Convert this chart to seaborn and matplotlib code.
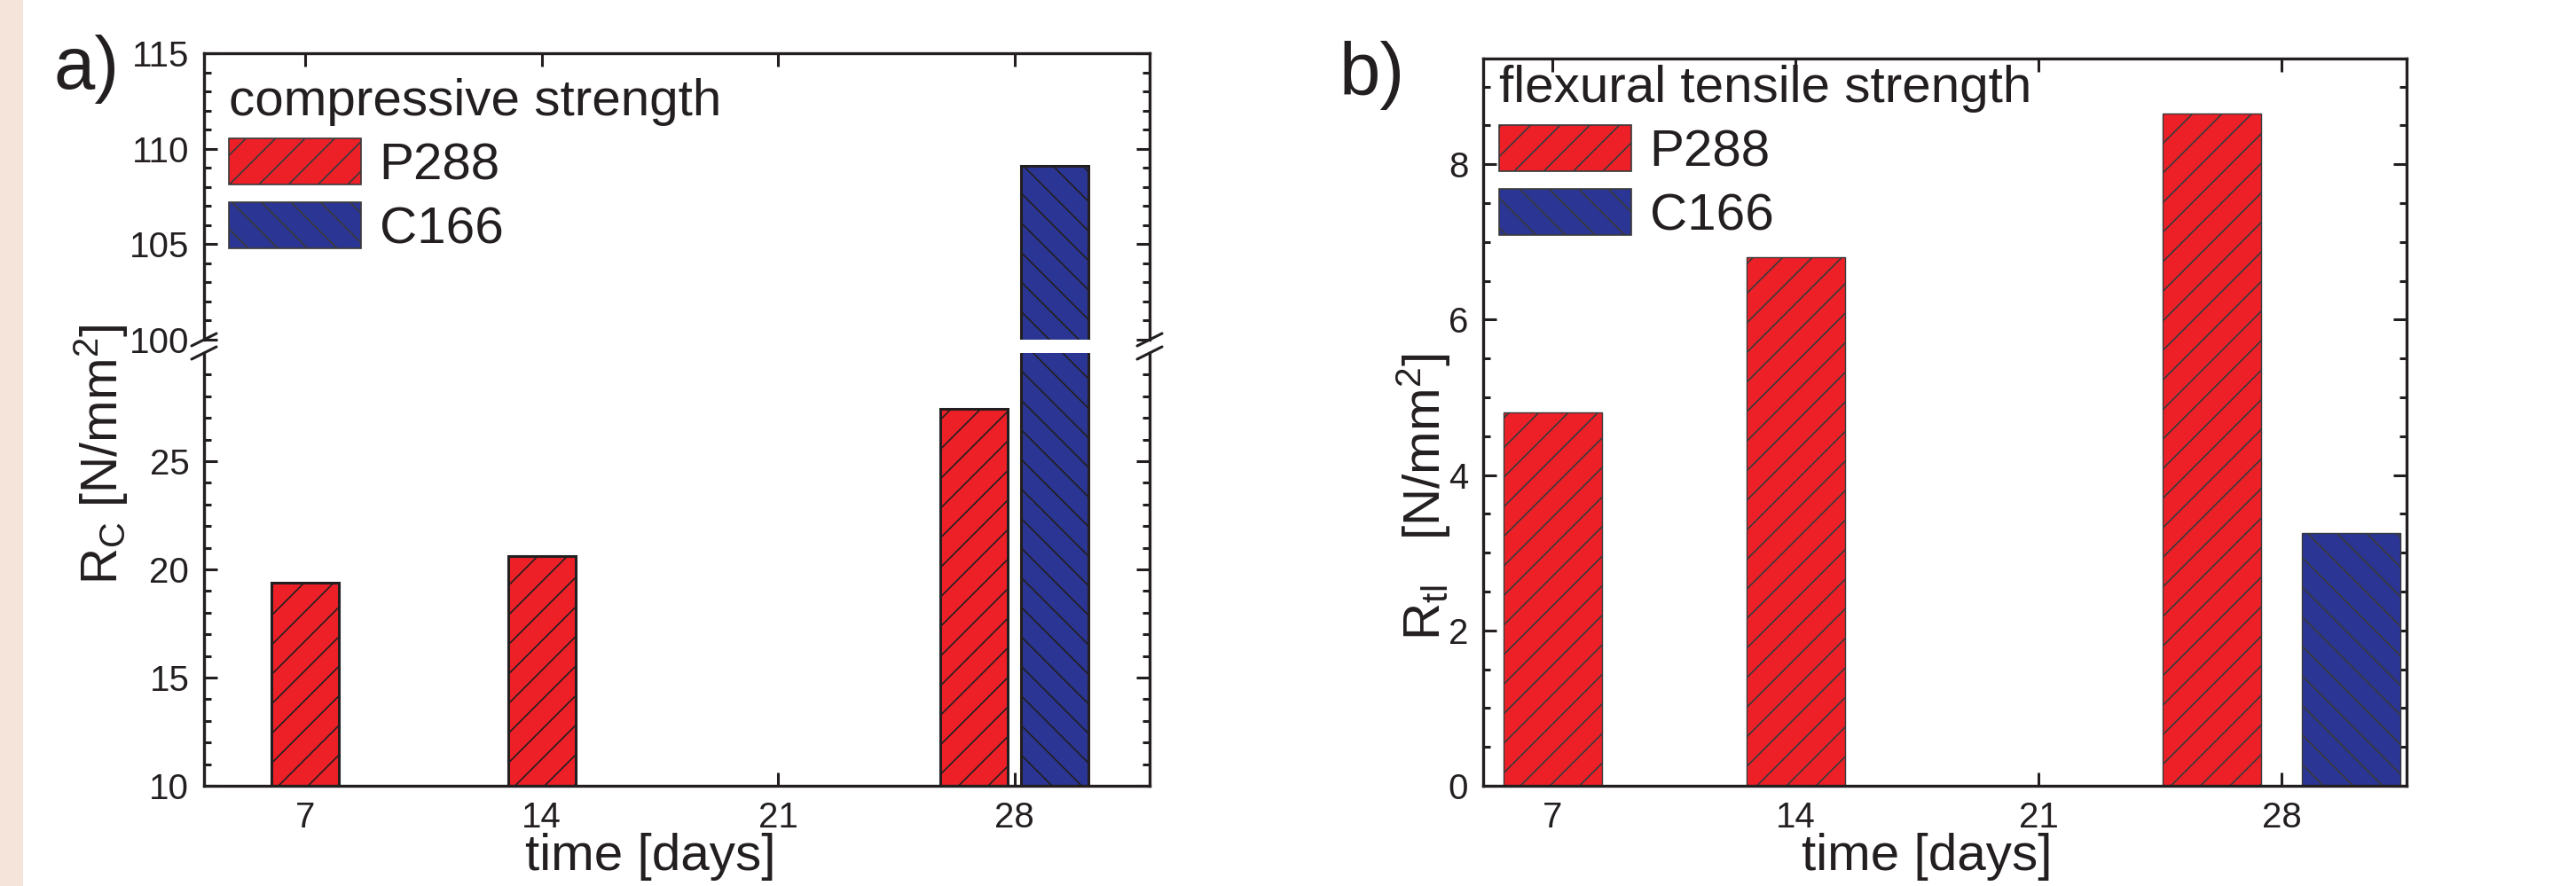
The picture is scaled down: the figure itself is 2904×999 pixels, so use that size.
import numpy as np
import pandas as pd
import matplotlib
matplotlib.use('Agg')
import matplotlib.pyplot as plt
from matplotlib.patches import Patch, Rectangle
from matplotlib.ticker import MultipleLocator, FixedLocator
import seaborn as sns

# data
days = [7, 14, 21, 28]
series = ['P288', 'C166']
compressive_p288 = [19.4, 20.6, np.nan, 27.4]
compressive_c166 = [np.nan, np.nan, np.nan, 109.1]
flexural_p288 = [4.8, 6.8, np.nan, 8.65]
flexural_c166 = [np.nan, np.nan, np.nan, 3.25]

colors = {'P288': '#ED2028', 'C166': '#2B3594'}
hatches = {'P288': '//', 'C166': '\\\\'}
INK = '#231F20'

W, H, DPI = 2904, 999, 200

sns.set_theme(style='ticks', rc={'hatch.linewidth': 0.6,
                                 'axes.edgecolor': INK,
                                 'xtick.color': INK,
                                 'ytick.color': INK,
                                 'text.color': INK})
plt.rcParams['font.family'] = ['Liberation Sans', 'DejaVu Sans']
plt.rcParams['mathtext.fontset'] = 'custom'
plt.rcParams['mathtext.rm'] = 'Liberation Sans'
plt.rcParams['mathtext.it'] = 'Liberation Sans:italic'


def long_table(p288, c166, offset):
    """One row per bar; bars sharing a day are pushed apart by offset."""
    rows = []
    for i, day in enumerate(days):
        vals = {'P288': p288[i], 'C166': c166[i]}
        present = [s for s in series if not np.isnan(vals[s])]
        for s in present:
            shift = 0.0
            if len(present) > 1:
                shift = -offset if s == 'P288' else offset
            rows.append({'day': day, 'pos': day + shift,
                         'series': s, 'value': vals[s]})
    return pd.DataFrame(rows)


def draw_bars(ax, df, bar_w, lw, edge):
    native = np.diff(np.unique(df['pos'])).min()
    sns.barplot(data=df, x='pos', y='value', hue='series', hue_order=series,
                palette=colors, native_scale=True, dodge=False,
                width=bar_w / native, saturation=1, errorbar=None,
                legend=False, edgecolor=edge, linewidth=lw, ax=ax)
    for cont, s in zip(ax.containers, series):
        for bar in cont:
            bar.set_hatch(hatches[s])
    ax.set_xlabel('')
    ax.set_ylabel('')


def style_axis(ax, xlim):
    for sp in ax.spines.values():
        sp.set_linewidth(1.2)
        sp.set_color(INK)
        sp.set_visible(True)
    ax.tick_params(which='both', direction='in', width=1.1, colors=INK,
                   labelsize=14.5, left=True, right=True)
    ax.tick_params(which='major', length=5.4)
    ax.tick_params(which='minor', length=2.9)
    ax.tick_params(axis='y', pad=6)
    ax.tick_params(axis='x', pad=6)
    ax.set_xlim(*xlim)
    ax.set_xticks(days)
    ax.set_xticklabels([str(d) for d in days])


def add_legend(ax, title, left_px, top_px):
    handles = [Patch(facecolor=colors[s], edgecolor='#3a3a3a',
                     hatch=hatches[s], linewidth=0.6) for s in series]
    leg = ax.legend(handles, series, title=title, loc='upper left',
                    bbox_to_anchor=(left_px / W, 1 - top_px / H),
                    bbox_transform=fig.transFigure, frameon=False,
                    fontsize=21, title_fontsize=21, handlelength=2.55,
                    handleheight=1.0, handletextpad=0.36, labelspacing=0.24,
                    borderpad=0, borderaxespad=0, alignment='left')
    leg.get_title().set_color(INK)
    return leg


def break_marks(ax, y, ax_w_px, ax_h_px):
    dx = 14 / ax_w_px
    dy = 7 / ax_h_px
    for x in (0, 1):
        ax.plot([x - dx, x + dx], [y - dy, y + dy], transform=ax.transAxes,
                color=INK, lw=1.1, clip_on=False)


fig = plt.figure(figsize=(W / DPI, H / DPI), dpi=DPI)
fig.patch.set_facecolor('white')
fig.add_artist(Rectangle((0, 0), 26 / W, 1, transform=fig.transFigure,
                         facecolor='#F5E4DA', edgecolor='none', zorder=0))


def px_axes(left, top, right, bottom):
    return fig.add_axes([left / W, 1 - bottom / H,
                         (right - left) / W, (bottom - top) / H])


# ---- panel a: compressive strength, broken y axis
comp = long_table(compressive_p288, compressive_c166, 1.2)
ax_hi = px_axes(230, 60, 1296, 383)
ax_lo = px_axes(230, 398, 1296, 886)
for ax in (ax_hi, ax_lo):
    draw_bars(ax, comp, 2.0, 1.1, INK)
    style_axis(ax, (4, 32))

ax_hi.set_ylim(100, 115)
ax_hi.yaxis.set_major_locator(MultipleLocator(5))
ax_hi.yaxis.set_minor_locator(MultipleLocator(1))
ax_hi.spines['bottom'].set_visible(False)
ax_hi.tick_params(axis='x', bottom=False, top=True, labelbottom=False)

ax_lo.set_ylim(10, 30)
ax_lo.yaxis.set_major_locator(FixedLocator([10, 15, 20, 25]))
ax_lo.yaxis.set_minor_locator(FixedLocator(np.arange(11, 30)))
ax_lo.spines['top'].set_visible(False)
ax_lo.tick_params(axis='x', bottom=True, top=False)

break_marks(ax_hi, 0, 1066, 323)
break_marks(ax_lo, 1, 1066, 488)
add_legend(ax_hi, 'compressive strength', 258, 88)

# ---- panel b: flexural tensile strength
flex = long_table(flexural_p288, flexural_c166, 2.0)
ax_b = px_axes(1672, 66, 2713, 886)
draw_bars(ax_b, flex, 2.83, 0.5, '#3a3a3a')
style_axis(ax_b, (5, 31.6))
ax_b.set_ylim(0, 9.36)
ax_b.yaxis.set_major_locator(MultipleLocator(2))
ax_b.yaxis.set_minor_locator(MultipleLocator(0.5))
ax_b.tick_params(axis='x', bottom=True, top=True)
add_legend(ax_b, 'flexural tensile strength', 1690, 73)

# ---- labels
fig.text(60 / W, 1 - 100 / H, 'a)', fontsize=30, ha='left', va='baseline')
fig.text(1510 / W, 1 - 107 / H, 'b)', fontsize=30, ha='left', va='baseline')
fig.text(114 / W, 1 - 512 / H, r'R$_\mathrm{C}$ [N/mm$^2$]', rotation=90,
         ha='center', va='center', fontsize=20.5)
fig.text(1605 / W, 1 - 560 / H, r'R$_\mathrm{tl}$   [N/mm$^2$]', rotation=90,
         ha='center', va='center', fontsize=21)
fig.text(733 / W, 1 - 981 / H, 'time [days]', ha='center', va='baseline',
         fontsize=21)
fig.text(2172 / W, 1 - 981 / H, 'time [days]', ha='center', va='baseline',
         fontsize=21)

fig.savefig('out.png', dpi=DPI)
